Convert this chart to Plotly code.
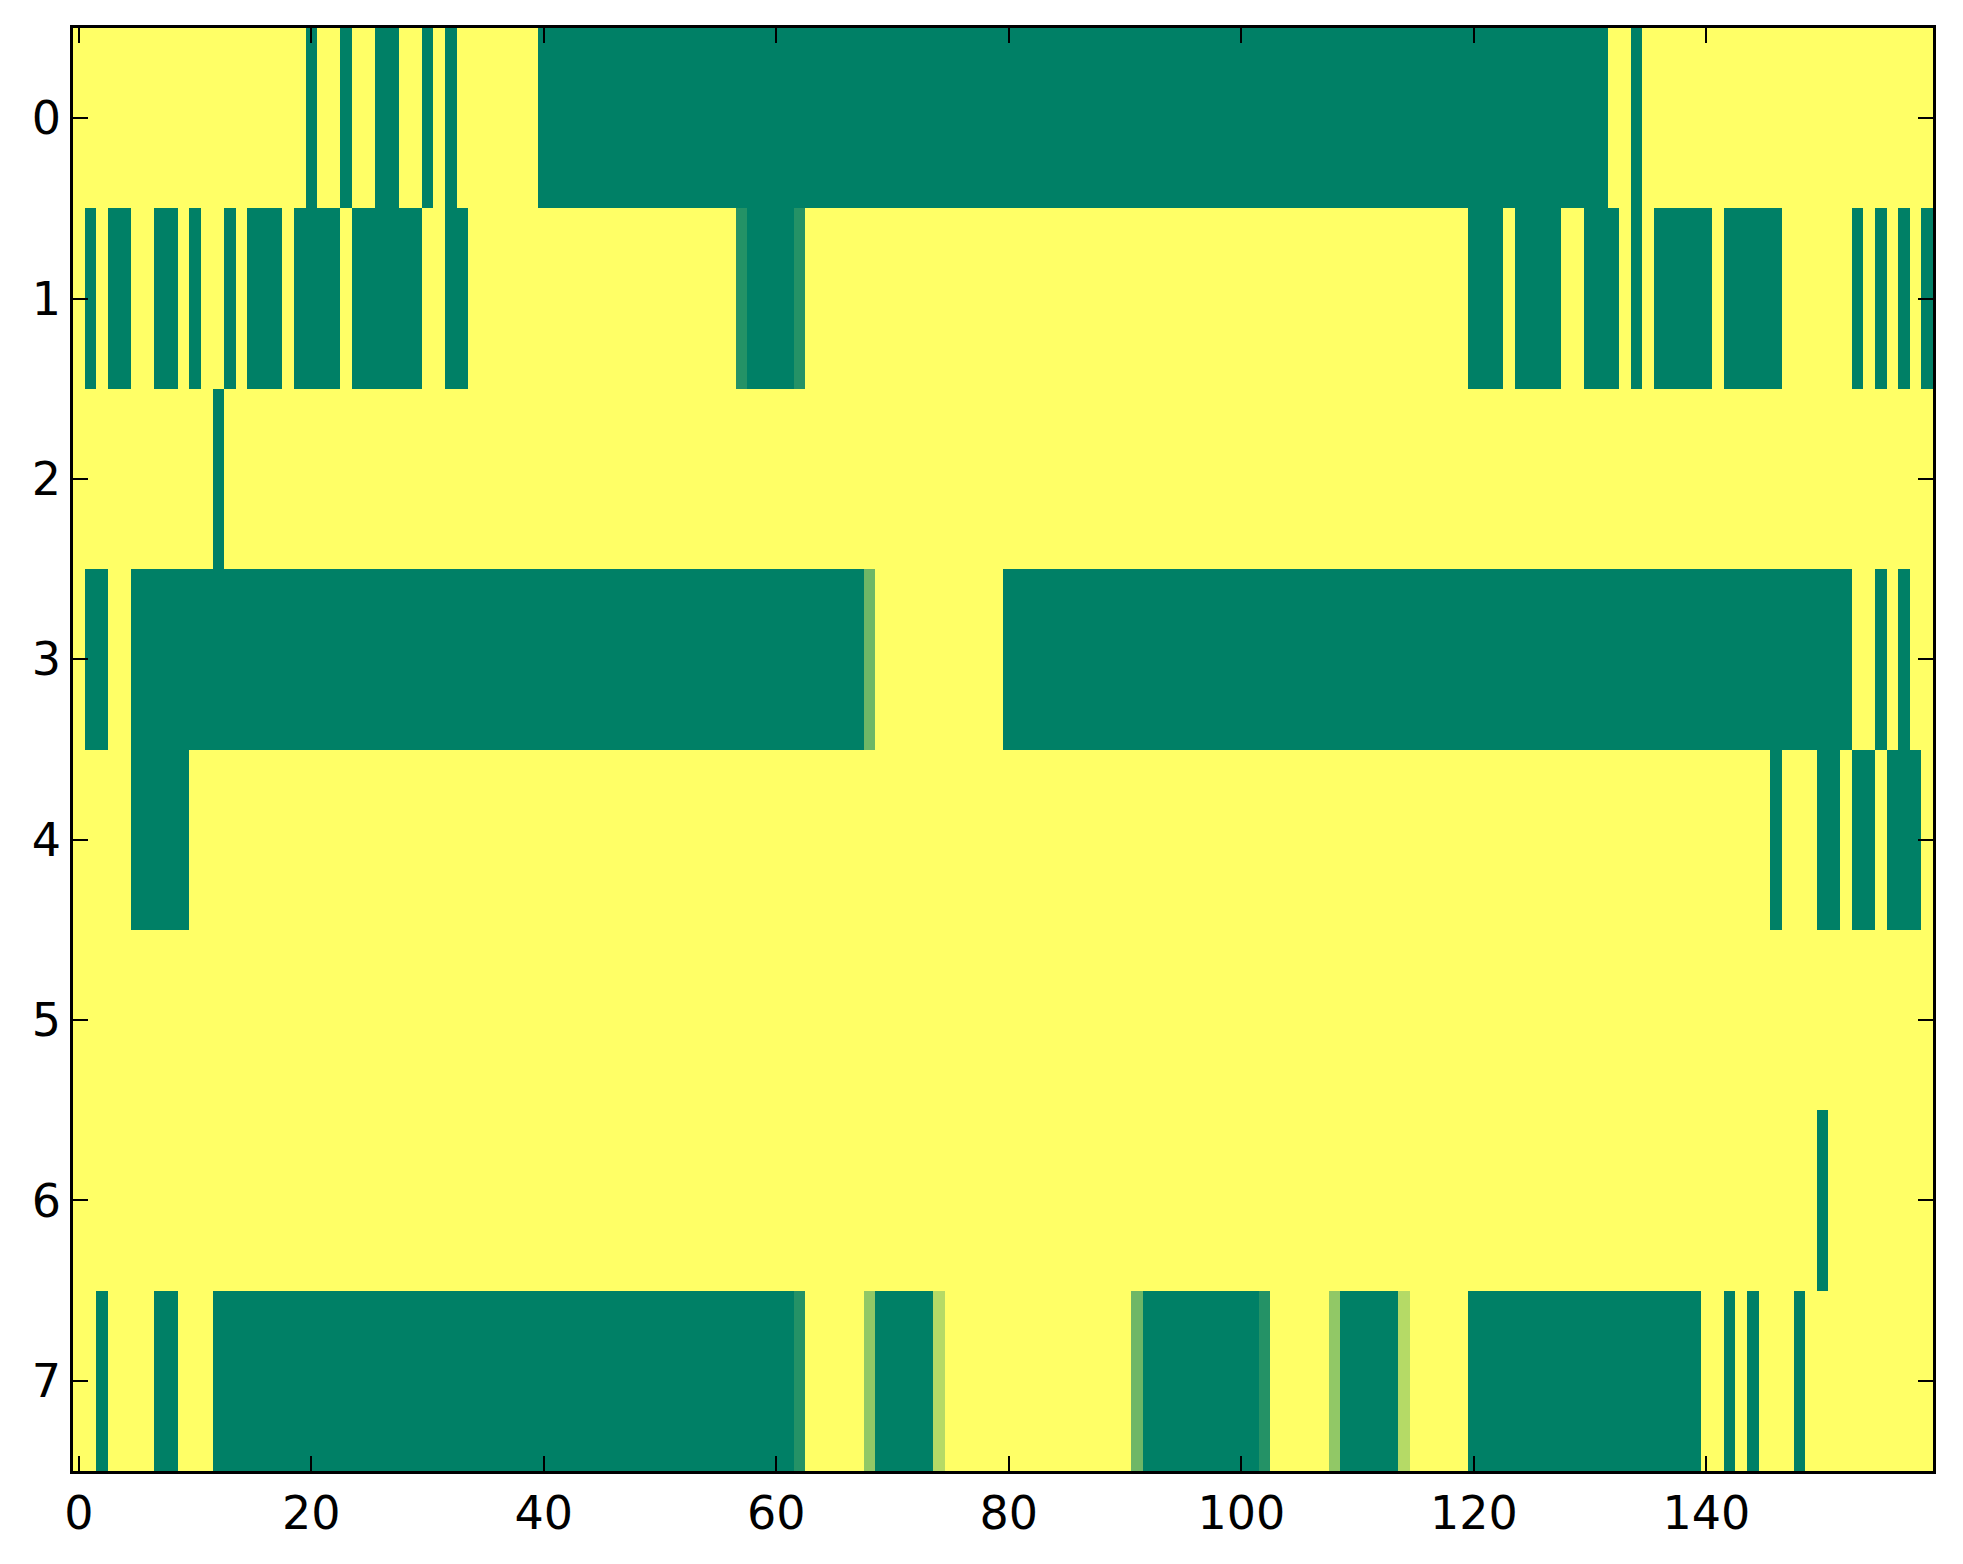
import plotly.graph_objects as go

# cell values: 0 = green, 1 = yellow, a few in between
row0 = [1,1,1,1,1,1,1,1,1,1,1,1,1,1,1,1,1,1,1,1,
        0,1,1,0,1,1,0,0,1,1,0,1,0,1,1,1,1,1,1,1,
        0,0,0,0,0,0,0,0,0,0,0,0,0,0,0,0,0,0,0,0,
        0,0,0,0,0,0,0,0,0,0,0,0,0,0,0,0,0,0,0,0,
        0,0,0,0,0,0,0,0,0,0,0,0,0,0,0,0,0,0,0,0,
        0,0,0,0,0,0,0,0,0,0,0,0,0,0,0,0,0,0,0,0,
        0,0,0,0,0,0,0,0,0,0,0,0,1,1,0,1,1,1,1,1,
        1,1,1,1,1,1,1,1,1,1,1,1,1,1,1,1,1,1,1,1]
row1 = [1,0,1,0,0,1,1,0,0,1,0,1,1,0,1,0,0,0,1,0,
        0,0,0,1,0,0,0,0,0,0,1,1,0,0,1,1,1,1,1,1,
        1,1,1,1,1,1,1,1,1,1,1,1,1,1,1,1,1,0.14,0,0,
        0,0,0.14,1,1,1,1,1,1,1,1,1,1,1,1,1,1,1,1,1,
        1,1,1,1,1,1,1,1,1,1,1,1,1,1,1,1,1,1,1,1,
        1,1,1,1,1,1,1,1,1,1,1,1,1,1,1,1,1,1,1,1,
        0,0,0,1,0,0,0,0,1,1,0,0,0,1,0,1,0,0,0,0,
        0,1,0,0,0,0,0,1,1,1,1,1,1,0,1,0,1,0,1,0]
row2 = [1,1,1,1,1,1,1,1,1,1,1,1,0,1,1,1,1,1,1,1,
        1,1,1,1,1,1,1,1,1,1,1,1,1,1,1,1,1,1,1,1,
        1,1,1,1,1,1,1,1,1,1,1,1,1,1,1,1,1,1,1,1,
        1,1,1,1,1,1,1,1,1,1,1,1,1,1,1,1,1,1,1,1,
        1,1,1,1,1,1,1,1,1,1,1,1,1,1,1,1,1,1,1,1,
        1,1,1,1,1,1,1,1,1,1,1,1,1,1,1,1,1,1,1,1,
        1,1,1,1,1,1,1,1,1,1,1,1,1,1,1,1,1,1,1,1,
        1,1,1,1,1,1,1,1,1,1,1,1,1,1,1,1,1,1,1,1]
row3 = [1,0,0,1,1,0,0,0,0,0,0,0,0,0,0,0,0,0,0,0,
        0,0,0,0,0,0,0,0,0,0,0,0,0,0,0,0,0,0,0,0,
        0,0,0,0,0,0,0,0,0,0,0,0,0,0,0,0,0,0,0,0,
        0,0,0,0,0,0,0,0,0.43,1,1,1,1,1,1,1,1,1,1,1,
        0,0,0,0,0,0,0,0,0,0,0,0,0,0,0,0,0,0,0,0,
        0,0,0,0,0,0,0,0,0,0,0,0,0,0,0,0,0,0,0,0,
        0,0,0,0,0,0,0,0,0,0,0,0,0,0,0,0,0,0,0,0,
        0,0,0,0,0,0,0,0,0,0,0,0,0,1,1,0,1,0,1,1]
row4 = [1,1,1,1,1,0,0,0,0,0,1,1,1,1,1,1,1,1,1,1,
        1,1,1,1,1,1,1,1,1,1,1,1,1,1,1,1,1,1,1,1,
        1,1,1,1,1,1,1,1,1,1,1,1,1,1,1,1,1,1,1,1,
        1,1,1,1,1,1,1,1,1,1,1,1,1,1,1,1,1,1,1,1,
        1,1,1,1,1,1,1,1,1,1,1,1,1,1,1,1,1,1,1,1,
        1,1,1,1,1,1,1,1,1,1,1,1,1,1,1,1,1,1,1,1,
        1,1,1,1,1,1,1,1,1,1,1,1,1,1,1,1,1,1,1,1,
        1,1,1,1,1,1,0,1,1,1,0,0,1,0,0,1,0,0,0,1]
row5 = [1,1,1,1,1,1,1,1,1,1,1,1,1,1,1,1,1,1,1,1,
        1,1,1,1,1,1,1,1,1,1,1,1,1,1,1,1,1,1,1,1,
        1,1,1,1,1,1,1,1,1,1,1,1,1,1,1,1,1,1,1,1,
        1,1,1,1,1,1,1,1,1,1,1,1,1,1,1,1,1,1,1,1,
        1,1,1,1,1,1,1,1,1,1,1,1,1,1,1,1,1,1,1,1,
        1,1,1,1,1,1,1,1,1,1,1,1,1,1,1,1,1,1,1,1,
        1,1,1,1,1,1,1,1,1,1,1,1,1,1,1,1,1,1,1,1,
        1,1,1,1,1,1,1,1,1,1,1,1,1,1,1,1,1,1,1,1]
row6 = [1,1,1,1,1,1,1,1,1,1,1,1,1,1,1,1,1,1,1,1,
        1,1,1,1,1,1,1,1,1,1,1,1,1,1,1,1,1,1,1,1,
        1,1,1,1,1,1,1,1,1,1,1,1,1,1,1,1,1,1,1,1,
        1,1,1,1,1,1,1,1,1,1,1,1,1,1,1,1,1,1,1,1,
        1,1,1,1,1,1,1,1,1,1,1,1,1,1,1,1,1,1,1,1,
        1,1,1,1,1,1,1,1,1,1,1,1,1,1,1,1,1,1,1,1,
        1,1,1,1,1,1,1,1,1,1,1,1,1,1,1,1,1,1,1,1,
        1,1,1,1,1,1,1,1,1,1,0,1,1,1,1,1,1,1,1,1]
row7 = [1,1,0,1,1,1,1,0,0,1,1,1,0,0,0,0,0,0,0,0,
        0,0,0,0,0,0,0,0,0,0,0,0,0,0,0,0,0,0,0,0,
        0,0,0,0,0,0,0,0,0,0,0,0,0,0,0,0,0,0,0,0,
        0,0,0.14,1,1,1,1,1,0.57,0,0,0,0,0,0.71,1,1,1,1,1,
        1,1,1,1,1,1,1,1,1,1,1,0.43,0,0,0,0,0,0,0,0,
        0,0,0.14,1,1,1,1,1,0.57,0,0,0,0,0,0.71,1,1,1,1,1,
        0,0,0,0,0,0,0,0,0,0,0,0,0,0,0,0,0,0,0,0,
        1,1,0,1,0,1,1,1,0,1,1,1,1,1,1,1,1,1,1,1]

rows = [row0, row1, row2, row3, row4, row5, row6, row7]
col_idx = list(range(len(row0)))
row_idx = list(range(len(rows)))
x_ticks = [0, 20, 40, 60, 80, 100, 120, 140]
y_ticks = [0, 1, 2, 3, 4, 5, 6, 7]

# matplotlib "summer": green at 0, yellow at 1
summer = [[0.0, "rgb(0,128,102)"], [1.0, "rgb(255,255,102)"]]

fig = go.Figure(go.Heatmap(
    z=rows, x=col_idx, y=row_idx,
    colorscale=summer, zmin=0, zmax=1, showscale=False,
))

axis_common = dict(
    showline=True, linecolor="black", linewidth=2.5, mirror="ticks",
    ticks="inside", ticklen=15, tickwidth=1.5, tickcolor="black",
    showgrid=False, zeroline=False,
    tickfont=dict(family="DejaVu Sans", size=46, color="black"),
)

fig.update_xaxes(range=[-0.5, 159.5], tickvals=x_ticks, **axis_common)
fig.update_yaxes(range=[7.5, -0.5], tickvals=y_ticks, **axis_common)

# the page body adds 8px on the left and top, so the figure is a bit smaller
fig.update_layout(
    width=1947, height=1548,
    margin=dict(l=65, r=22, t=20, b=85),
    paper_bgcolor="white", plot_bgcolor="white",
)

fig.write_html("out.html")
